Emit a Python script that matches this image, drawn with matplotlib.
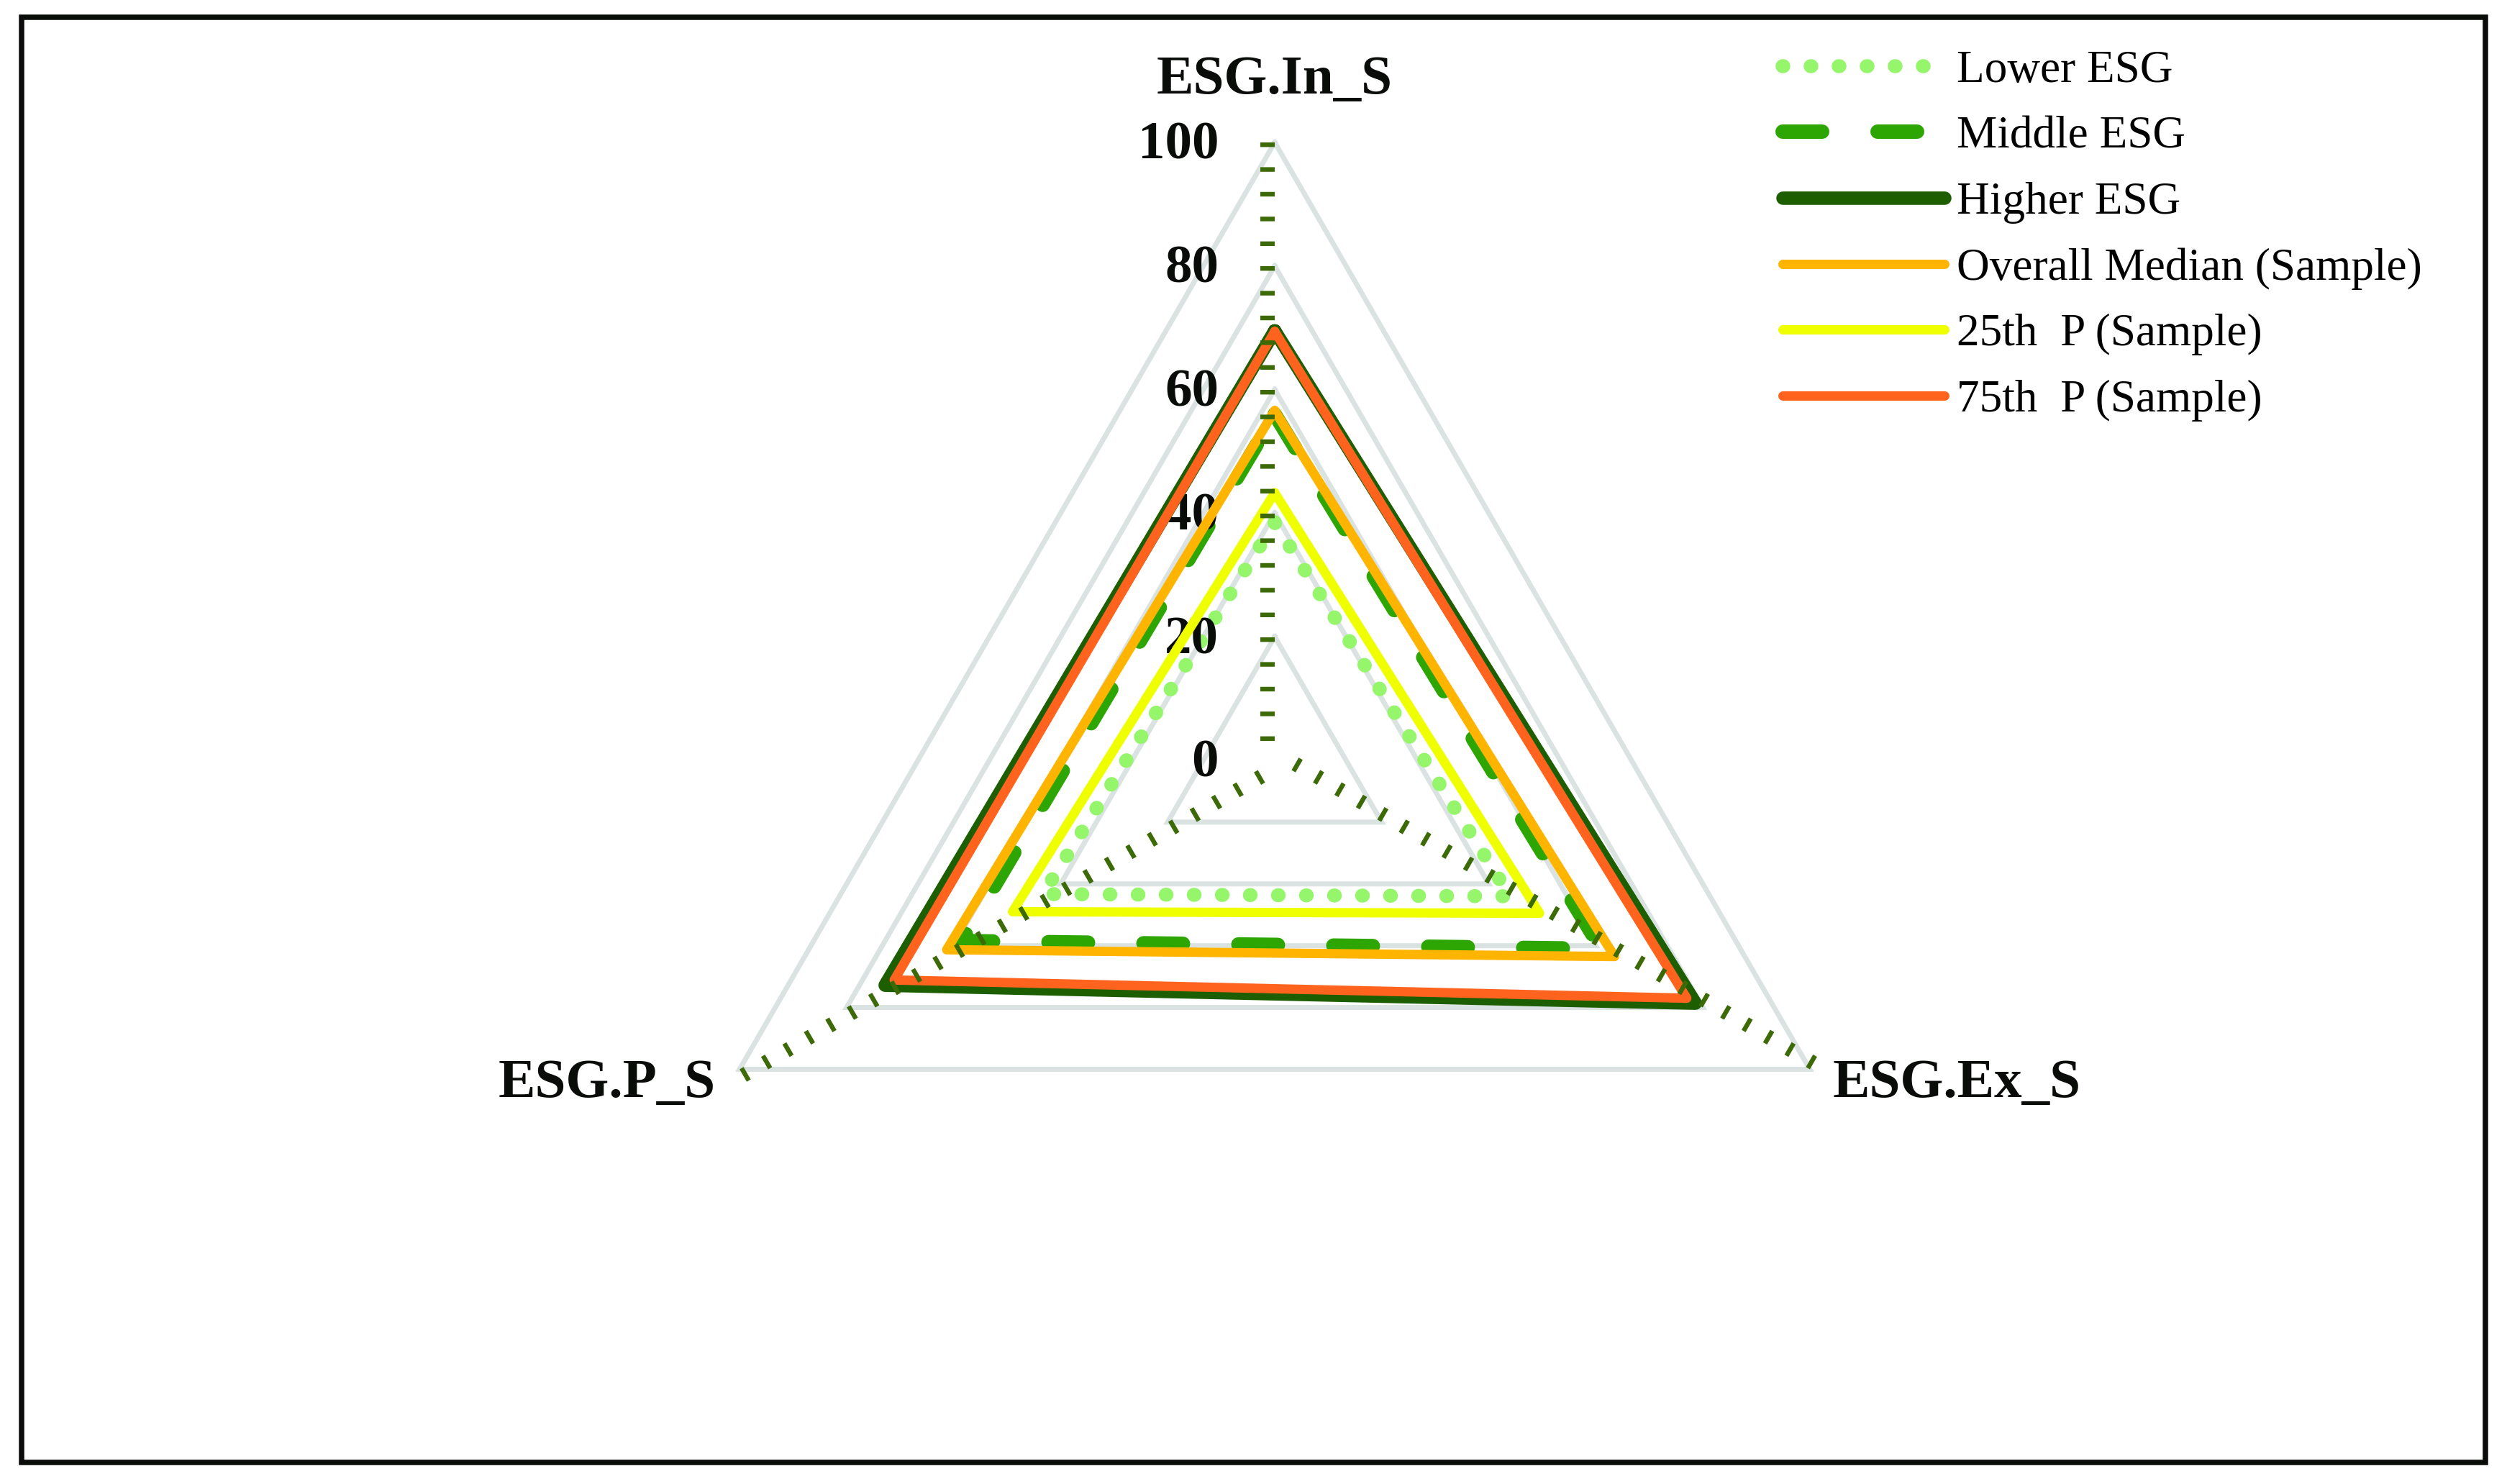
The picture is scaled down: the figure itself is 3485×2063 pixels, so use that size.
import numpy as np
import matplotlib
matplotlib.use("Agg")
import matplotlib.pyplot as plt
import matplotlib.transforms as mtransforms
from matplotlib.patches import Rectangle
from matplotlib.font_manager import FontProperties

# ---------------- data ----------------
categories = ['ESG.In_S', 'ESG.Ex_S', 'ESG.P_S']
lower_esg = [38.5, 44.0, 43.3]
middle_esg = [56.0, 61.0, 58.5]
higher_esg = [69.5, 78.6, 72.8]
overall_median = [56.6, 63.5, 61.3]
p25_sample = [43.3, 49.5, 49.0]
p75_sample = [69.4, 77.0, 71.1]
series_labels = ['Lower ESG', 'Middle ESG', 'Higher ESG',
                 'Overall Median (Sample)', '25th  P (Sample)', '75th  P (Sample)']
grid_levels = [20, 40, 60, 80, 100]
tick_values = [0, 20, 40, 60, 80, 100]

# ---------------- figure ----------------
plt.rcParams['font.family'] = ['Liberation Serif', 'DejaVu Serif']
DPI = 300
fig = plt.figure(figsize=(3485 / DPI, 2063 / DPI), dpi=DPI)
fig.patch.set_facecolor('white')

ax = fig.add_axes([0.26198, 0.07126, 0.49297, 0.83277], projection='polar')
ax.set_theta_zero_location('N')
ax.set_theta_direction(-1)
ax.set_ylim(0, 100)
ax.grid(False)
ax.set_xticks([])
ax.set_yticks([])
ax.spines['polar'].set_visible(False)
ax.patch.set_visible(False)

n = len(categories)
theta = np.arange(n) * 2 * np.pi / n
theta_closed = np.append(theta, theta[0])


def closed(vals):
    return np.append(vals, vals[0])


px = 72.0 / DPI  # points per pixel

# grid triangles
for lev in grid_levels:
    ax.plot(theta_closed, [lev] * (n + 1), color='#DAE3E1', lw=7 * px,
            solid_joinstyle='miter', zorder=1, clip_on=False)

# series
styles = [
    dict(color='#95F56B', lw=19.5 * px, linestyle=(0, (0.05, 1.95)),
         dash_capstyle='round', dash_joinstyle='round'),
    dict(color='#2DA503', lw=20 * px, linestyle=(0, (2.75, 3.85)),
         dash_capstyle='round', dash_joinstyle='round'),
    dict(color='#1C5E00', lw=18.6 * px, solid_capstyle='round', solid_joinstyle='round'),
    dict(color='#FFB400', lw=13 * px, solid_capstyle='round', solid_joinstyle='round'),
    dict(color='#EFFF00', lw=13 * px, solid_capstyle='round', solid_joinstyle='round'),
    dict(color='#FF631E', lw=13 * px, solid_capstyle='round', solid_joinstyle='round'),
]
all_series = [lower_esg, middle_esg, higher_esg, overall_median, p25_sample, p75_sample]
handles = []
for i, (vals, st, lab) in enumerate(zip(all_series, styles, series_labels)):
    h, = ax.plot(theta_closed, closed(vals), label=lab, zorder=2 + i, clip_on=False, **st)
    handles.append(h)

# spokes (tick-like dashed axis lines, drawn on one side of each spoke)
spoke_lw_px = 20
half_in = (spoke_lw_px / 2) / DPI
for t in theta:
    off = mtransforms.ScaledTranslation(-np.cos(t) * half_in, np.sin(t) * half_in,
                                        fig.dpi_scale_trans)
    ax.plot([t, t], [100, 0], color='#3B6A07', lw=spoke_lw_px * px,
            linestyle=(0, (0.32, 1.4)), dash_capstyle='butt',
            transform=ax.transData + off, zorder=20, clip_on=False)

# radial tick labels
for v in tick_values:
    ax.annotate(str(v), xy=(0, v), xytext=(-18.7, -1.2), textcoords='offset points',
                ha='right', va='center', fontsize=18, fontweight='bold',
                color='#0A0C0A', annotation_clip=False)

# category labels
ax.annotate(categories[0], xy=(theta[0], 100), xytext=(0, 16.3), textcoords='offset points',
            ha='center', va='baseline', fontsize=18.5, fontweight='bold', color='#0A0C0A',
            annotation_clip=False)
ax.annotate(categories[1], xy=(theta[1], 100), xytext=(7.7, -9.2), textcoords='offset points',
            ha='left', va='baseline', fontsize=18.5, fontweight='bold', color='#0A0C0A',
            annotation_clip=False)
ax.annotate(categories[2], xy=(theta[2], 100), xytext=(-8.0, -9.2), textcoords='offset points',
            ha='right', va='baseline', fontsize=18.5, fontweight='bold', color='#0A0C0A',
            annotation_clip=False)

# legend
leg = fig.legend(handles, series_labels, loc='upper left', bbox_to_anchor=(0.711, 0.9663),
                 frameon=False, borderpad=0, borderaxespad=0, handlelength=3.55,
                 handletextpad=0.27, labelspacing=0.525,
                 prop=FontProperties(family='Liberation Serif', size=15.2))

# outer frame
fig.add_artist(Rectangle((0.0086, 0.01454), 0.9828, 0.97366, transform=fig.transFigure,
                         fill=False, lw=1.8, ec='#0A0C0A', joinstyle='miter', zorder=50))

fig.savefig('out.png', dpi=DPI)
